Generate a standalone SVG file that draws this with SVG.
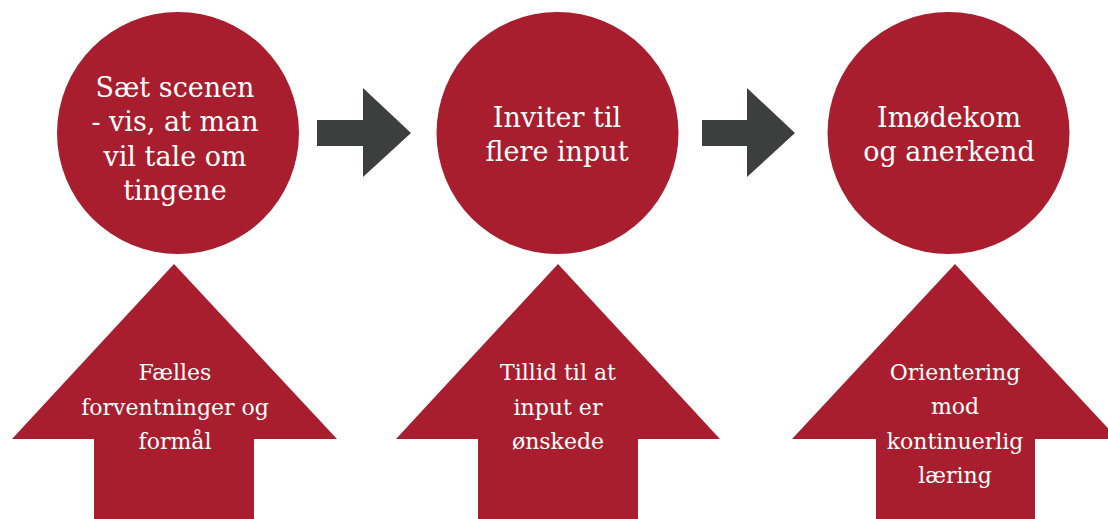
<svg xmlns="http://www.w3.org/2000/svg" width="1108" height="519" viewBox="0 0 1108 519">
<style>
.c{fill:#A91E2E}
.u{fill:#A91E2E}
.a{fill:#3D3F3E}
.t{font-family:"DejaVu Serif","Liberation Serif",serif;fill:#FFFFFF;text-anchor:middle}
.big{font-size:27px}
.sm{font-size:22px}
</style>
<rect width="1108" height="519" fill="#FFFFFF"/>
<g id="connectors">
<polygon class="a" points="317,120 363,120 363,88 411,133 363,177 363,146 317,146"/>
<polygon class="a" points="702,120 747,120 747,88 795,133 747,177 747,146 702,146"/>
</g>
<g id="node-circle1">
<circle class="c" cx="178" cy="133" r="121"/>
<text class="t big" x="175" y="97">Sæt scenen</text>
<text class="t big" x="175" y="131">- vis, at man</text>
<text class="t big" x="175" y="166">vil tale om</text>
<text class="t big" x="175" y="200">tingene</text>
</g>
<g id="node-circle2">
<circle class="c" cx="557.5" cy="133" r="121"/>
<text class="t big" x="557" y="127">Inviter til</text>
<text class="t big" x="557" y="161">flere input</text>
</g>
<g id="node-circle3">
<circle class="c" cx="948.5" cy="133" r="121"/>
<text class="t big" x="949" y="127">Imødekom</text>
<text class="t big" x="949" y="161">og anerkend</text>
</g>
<g id="node-up1">
<polygon class="u" points="174,264 337,439 254,439 254,519 94,519 94,439 12,439"/>
<text class="t sm" x="175" y="380">Fælles</text>
<text class="t sm" x="175" y="415">forventninger og</text>
<text class="t sm" x="175" y="449">formål</text>
</g>
<g id="node-up2">
<polygon class="u" points="558,264 720,439 638,439 638,519 478,519 478,439 396,439"/>
<text class="t sm" x="558" y="380">Tillid til at</text>
<text class="t sm" x="558" y="415">input er</text>
<text class="t sm" x="558" y="449">ønskede</text>
</g>
<g id="node-up3">
<polygon class="u" points="955,264 1118,439 1035,439 1035,519 876,519 876,439 792,439"/>
<text class="t sm" x="955" y="380">Orientering</text>
<text class="t sm" x="955" y="414">mod</text>
<text class="t sm" x="955" y="449">kontinuerlig</text>
<text class="t sm" x="955" y="483">læring</text>
</g>
</svg>
